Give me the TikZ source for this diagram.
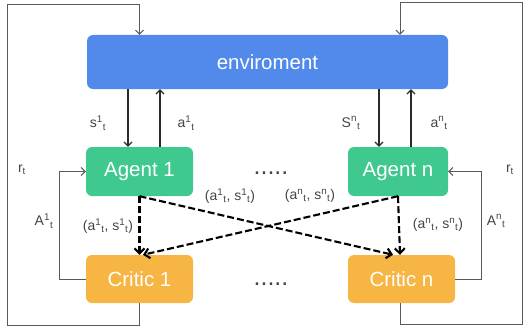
\documentclass[tikz,border=0pt]{standalone}
\usepackage{fontspec}
\setmainfont{Liberation Sans}
\usetikzlibrary{arrows.meta}

\definecolor{envblue}{HTML}{518AEB}
\definecolor{agentgreen}{HTML}{3FC98E}
\definecolor{criticorange}{HTML}{F7B543}
\definecolor{labelgray}{HTML}{444444}
\definecolor{linedark}{HTML}{2A2A2A}
\definecolor{loopgray}{HTML}{5A5A5A}

% superscript followed by subscript
\newcommand\supsub[2]{\textsuperscript{#1}\textsubscript{#2}}

\begin{document}
\begin{tikzpicture}[x=1pt,y=-1pt,
  box/.style={rounded corners=6pt, inner sep=0pt, text=white,
    font=\fontsize{20.5}{24}\selectfont},
  lbl/.style={text=labelgray, inner sep=0pt, font=\fontsize{14}{16}\selectfont},
  dots/.style={text=labelgray, inner sep=0pt, font=\fontsize{25}{25}\selectfont},
  flow/.style={draw=linedark, line width=1.2pt,
    -{Straight Barb[length=4pt,width=8pt]}},
  fb/.style={draw=loopgray, line width=1pt,
    -{Straight Barb[length=4pt,width=8pt]}},
  share/.style={draw=black, line width=2.1pt, dash pattern=on 7pt off 3pt,
    -{Straight Barb[length=5pt,width=10pt]}}]
\useasboundingbox (0,0) rectangle (527,329);

% boxes
\node[box, fill=envblue, minimum width=361pt, minimum height=54pt] (env) at (267.5,62) {enviroment};
\node[box, fill=agentgreen, minimum width=107pt, minimum height=49pt] (agent1) at (139.5,171.5) {Agent 1};
\node[box, fill=agentgreen, minimum width=100pt, minimum height=49pt] (agentn) at (398,171.5) {Agent n};
\node[box, fill=criticorange, minimum width=107pt, minimum height=48pt] (critic1) at (139.5,279) {Critic 1};
\node[box, fill=criticorange, minimum width=107pt, minimum height=48pt] (criticn) at (401.5,279) {Critic n};

% ellipses between columns
\node[dots] (dotsA) at (271,173) {.....};
\node[dots] (dotsC) at (271,284) {.....};

% free corners of the feedback loops
\coordinate (lbot) at (7,325);
\coordinate (ltop) at (7,5);
\coordinate (rbot) at (522,324);
\coordinate (rtop) at (522,3);
\coordinate (advl) at (59,0);
\coordinate (advr) at (481,0);

% states and actions
\draw[flow] ([xshift=-11.5pt]agent1.north |- env.south) -- ([xshift=-11.5pt]agent1.north);
\draw[flow] ([xshift=20.5pt]agent1.north) -- ([xshift=20.5pt]agent1.north |- env.south);
\draw[flow] ([xshift=-19pt]agentn.north |- env.south) -- ([xshift=-19pt]agentn.north);
\draw[flow] ([xshift=13pt]agentn.north) -- ([xshift=13pt]agentn.north |- env.south);

% rewards back to the environment
\draw[fb] (critic1.south) |- (lbot) -- (ltop) -| (critic1.south |- env.north);
\draw[fb] ([xshift=-1.5pt]criticn.south) |- (rbot) -- (rtop) -| ([xshift=-1.5pt]criticn.south |- env.north);

% advantages back to the agents
\draw[fb] (critic1.west) -- (critic1.west -| advl) -- (agent1.west -| advl) -- (agent1.west);
\draw[fb] (criticn.east) -- (criticn.east -| advr) -- (agentn.east -| advr) -- (agentn.east);

% shared observations and actions
\draw[share] (agent1.south) -- (critic1.north);
\draw[share] (agent1.south) -- ([xshift=-8.5pt]criticn.north);
\draw[share] (agentn.south) -- ([xshift=3.5pt]critic1.north);
\draw[share] (agentn.south) -- ([xshift=-1.5pt]criticn.north);

% labels
\node[lbl] (ls1) at (98,123) {s\supsub{1}{t}};
\node[lbl] (la1) at (186,123) {a\supsub{1}{t}};
\node[lbl] (lsn) at (351,123) {S\supsub{n}{t}};
\node[lbl] (lan) at (439,123) {a\supsub{n}{t}};
\node[lbl] (lr1) at (22,170) {r\textsubscript{t}};
\node[lbl] (lrn) at (510,170) {r\textsubscript{t}};
\node[lbl] (lA1) at (44,221) {A\supsub{1}{t}};
\node[lbl] (lAn) at (496,221) {A\supsub{n}{t}};
\node[lbl] (lp11) at (108,226) {(a\supsub{1}{t}, s\supsub{1}{t})};
\node[lbl] (lp1n) at (230,196) {(a\supsub{1}{t}, s\supsub{1}{t})};
\node[lbl] (lpn1) at (310,196) {(a\supsub{n}{t}, s\supsub{n}{t})};
\node[lbl] (lpnn) at (438,225) {(a\supsub{n}{t}, s\supsub{n}{t})};
\end{tikzpicture}
\end{document}
